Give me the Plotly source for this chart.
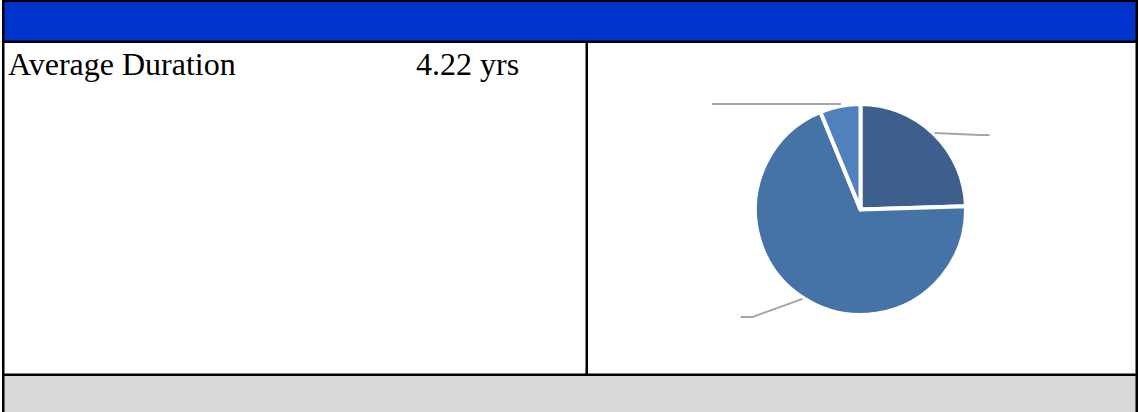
import math
import plotly.graph_objects as go

# ---- data ----
slice_names = ["Category A", "Category B", "Category C"]
slice_values = [24.5, 69.3, 6.2]
slice_colors = ["#3C5F8E", "#4673A6", "#4F81BD"]
metric_label = "Average Duration"
metric_value = "4.22 yrs"

# ---- layout constants (pixels) ----
W, H = 1140, 412
CX, CY, R = 860.5, 209.5, 105.5
# leader elbow offsets (styling) per slice, same order as slices: (dx, dy) to elbow, then horizontal run
leader_style = [((45, 2), 10), ((-50, 18), -12), ((0, -1), -128)]

fig = go.Figure()

fig.add_trace(go.Pie(
    labels=slice_names, values=slice_values, sort=False,
    direction="clockwise", rotation=0,
    marker=dict(colors=slice_colors, line=dict(color="white", width=4)),
    textinfo="none", hoverinfo="label+percent", showlegend=False,
    domain=dict(x=[(CX - R) / W, (CX + R) / W], y=[1 - (CY + R) / H, 1 - (CY - R) / H]),
))

def rect(x0, y0, x1, y1, color):
    return dict(type="rect", xref="x", yref="y", x0=x0, y0=y0, x1=x1, y1=y1,
                fillcolor=color, line=dict(width=0), layer="below")

shapes = [
    rect(2, 0, 1138, 42, "#0033CC"),
    rect(2, 375, 1138, 412, "#D9D9D9"),
    rect(2, 0, 1138, 2, "black"),
    rect(2, 40.5, 1138, 43, "black"),
    rect(2, 373.5, 1138, 376, "black"),
    rect(2, 0, 4.5, 412, "black"),
    rect(1135.5, 0, 1138, 412, "black"),
    rect(585.5, 42, 588, 375, "black"),
]

# leader lines computed from slice mid-angles
total = sum(slice_values)
cum = 0.0
for v, ((dx, dy), run) in zip(slice_values, leader_style):
    mid = (cum + v / 2) / total * 2 * math.pi
    cum += v
    sx = CX + (R + 1) * math.sin(mid)
    sy = CY - (R + 1) * math.cos(mid)
    ex, ey = sx + dx, sy + dy
    fx = ex + run
    shapes.append(dict(type="path", xref="x", yref="y",
                       path=f"M {sx:.1f},{sy:.1f} L {ex:.1f},{ey:.1f} L {fx:.1f},{ey:.1f}",
                       line=dict(color="#A6A6A6", width=2), layer="above"))

annotations = [
    dict(x=6, y=64, xref="x", yref="y", text=metric_label, showarrow=False,
         xanchor="left", yanchor="middle",
         font=dict(family="Liberation Serif, Times New Roman, serif", size=32, color="black")),
    dict(x=414, y=64, xref="x", yref="y", text=metric_value, showarrow=False,
         xanchor="left", yanchor="middle",
         font=dict(family="Liberation Serif, Times New Roman, serif", size=32, color="black")),
]

fig.update_layout(
    width=W, height=H, margin=dict(l=0, r=0, t=0, b=0),
    paper_bgcolor="white", plot_bgcolor="white",
    xaxis=dict(range=[0, W], visible=False, fixedrange=True, domain=[0, 1]),
    yaxis=dict(range=[H, 0], visible=False, fixedrange=True, domain=[0, 1]),
    shapes=shapes, annotations=annotations,
)

fig.write_html("out.html")
